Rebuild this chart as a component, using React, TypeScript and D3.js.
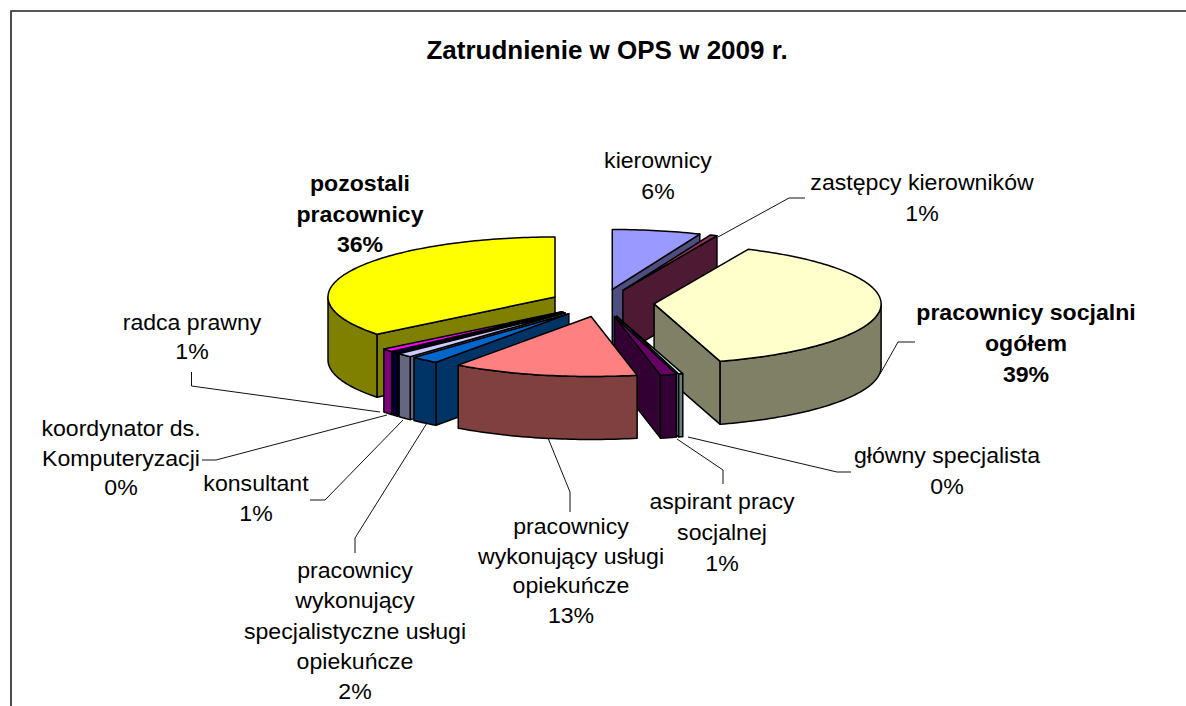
import React from "react";
import * as d3 from "d3";

const titleText = "Zatrudnienie w OPS w 2009 r.";
const categories = [
  "kierownicy",
  "zastępcy kierowników",
  "pracownicy socjalni ogółem",
  "główny specjalista",
  "aspirant pracy socjalnej",
  "pracownicy wykonujący usługi opiekuńcze",
  "pracownicy wykonujący specjalistyczne usługi opiekuńcze",
  "konsultant",
  "koordynator ds. Komputeryzacji",
  "radca prawny",
  "pozostali pracownicy",
];
const shares = [6.3, 0.5, 38.5, 0.3, 1.15, 13.2, 2, 1.1, 0.45, 0.85, 35.65];
const shareLabels = ["6%", "1%", "39%", "0%", "1%", "13%", "2%", "1%", "0%", "1%", "36%"];
const faceColors = ["#9999FF", "#993366", "#FFFFCC", "#CCFFFF", "#660066", "#FF8080", "#0066CC", "#CCCCFF", "#000080", "#FF00FF", "#FFFF00"];
const wallColors = ["#4D4D80", "#4D1933", "#808066", "#668080", "#330033", "#804040", "#003366", "#666680", "#000040", "#800080", "#808000"];

// Layout only: how each label is broken and where it sits.
const labelLines = [
  ["kierownicy"],
  ["zastępcy kierowników"],
  ["pracownicy socjalni", "ogółem"],
  ["główny specjalista"],
  ["aspirant pracy", "socjalnej"],
  ["pracownicy", "wykonujący usługi", "opiekuńcze"],
  ["pracownicy", "wykonujący", "specjalistyczne usługi", "opiekuńcze"],
  ["konsultant"],
  ["koordynator ds.", "Komputeryzacji"],
  ["radca prawny"],
  ["pozostali", "pracownicy"],
];
const labelBold = [false, false, true, false, false, false, false, false, false, false, true];
const labelCx = [658, 922, 1026, 947, 722, 571, 355, 256, 121, 192, 360];
const labelTop = [168, 190, 320, 463, 509, 534, 578, 491, 436, 330, 191];
const labelStep = [31, 31, 31, 31, 31, 29.7, 30.3, 30, 29.5, 29, 30.5];
const leaders: [number, number][][] = [
  [],
  [[718, 237], [789, 198], [805, 198]],
  [[880, 374], [898, 342], [915, 342]],
  [[688, 437], [837, 472], [851, 472]],
  [[677, 439], [723, 470], [723, 484]],
  [[548, 438], [570, 492], [570, 512]],
  [[427, 423], [355, 538], [355, 553]],
  [[403, 420], [325, 500], [310, 500]],
  [[387, 415], [216, 460], [202, 460]],
  [[380, 412], [191.5, 386], [191.5, 372]],
  [],
];

const CX = 602, CY = 303, RX = 227, RY = 60, DEPTH = 63, EXPLODE = 0.23;
const FONT = "'Liberation Sans', Arial, sans-serif";
const LABEL_SIZE = 22, TITLE_SIZE = 26, STRETCH = 1.05;

const px = d3.scaleLinear().domain([-1, 1]).range([CX - RX, CX + RX]);
const py = d3.scaleLinear().domain([-1, 1]).range([CY - RY, CY + RY]);
const line = d3.line<[number, number]>();

const arcs = d3.pie<number>().sort(null).value((d) => d)(shares);

function arcAngles(a0: number, a1: number) {
  const n = Math.max(2, Math.ceil((a1 - a0) / 0.02));
  return d3.range(n + 1).map((i) => a0 + ((a1 - a0) * i) / n);
}

const slices = arcs
  .map((arc, i) => {
    const a0 = arc.startAngle, a1 = arc.endAngle, mid = (a0 + a1) / 2;
    const ox = EXPLODE * Math.sin(mid), oy = -EXPLODE * Math.cos(mid);
    const pt = (a: number): [number, number] => [px(ox + Math.sin(a)), py(oy - Math.cos(a))];
    const down = (p: [number, number]): [number, number] => [p[0], p[1] + DEPTH];
    const apex: [number, number] = [px(ox), py(oy)];
    const outer = arcAngles(a0, a1).map(pt);
    const wall = (a: number) => {
      const q = pt(a);
      return line([apex, q, down(q), down(apex)])! + "Z";
    };
    const paths: { d: string; fill: string }[] = [];
    // radial walls that face the viewer
    if (-Math.sin(a0) > 0.001) paths.push({ d: wall(a0), fill: wallColors[i] });
    if (Math.sin(a1) > 0.001) paths.push({ d: wall(a1), fill: wallColors[i] });
    // outer rim: only its front half can be seen
    const r0 = Math.max(a0, Math.PI / 2), r1 = Math.min(a1, (3 * Math.PI) / 2);
    if (r1 > r0) {
      const rim = arcAngles(r0, r1).map(pt);
      paths.push({ d: line([...rim, ...rim.map(down).reverse()])! + "Z", fill: wallColors[i] });
    }
    paths.push({ d: line([apex, ...outer])! + "Z", fill: faceColors[i] });
    return { i, paths, key: apex[1] + 0.5 * RY * -Math.cos(mid) };
  })
  .sort((a, b) => a.key - b.key);

export default function App() {
  return (
    <svg
      width={1186}
      height={706}
      viewBox="0 0 1186 706"
      style={{ position: "absolute", left: 0, top: 0, background: "#fff", display: "block" }}
    >
      <path d="M1186,11H11V706" fill="none" stroke="#222" strokeWidth={1.6} />
      <text x={607} y={59} textAnchor="middle" fontFamily={FONT} fontWeight="bold" fontSize={TITLE_SIZE} fill="#000">
        {titleText}
      </text>
      <g stroke="#000" strokeWidth={1.5} strokeLinejoin="round">
        {slices.map((s) => (
          <g key={s.i}>
            {s.paths.map((p, j) => (
              <path key={j} d={p.d} fill={p.fill} />
            ))}
          </g>
        ))}
      </g>
      <g fill="none" stroke="#111" strokeWidth={1}>
        {leaders.map((l, i) => (l.length ? <path key={i} d={line(l)!} /> : null))}
      </g>
      <g fontFamily={FONT} fontSize={LABEL_SIZE} fill="#000" textAnchor="middle">
        {categories.map((c, i) => (
          <g key={c} fontWeight={labelBold[i] ? "bold" : "normal"}>
            {[...labelLines[i], shareLabels[i]].map((t, j) => (
              <text key={j} transform={`translate(${labelCx[i]},${labelTop[i] + j * labelStep[i]}) scale(${STRETCH},1)`}>
                {t}
              </text>
            ))}
          </g>
        ))}
      </g>
    </svg>
  );
}
